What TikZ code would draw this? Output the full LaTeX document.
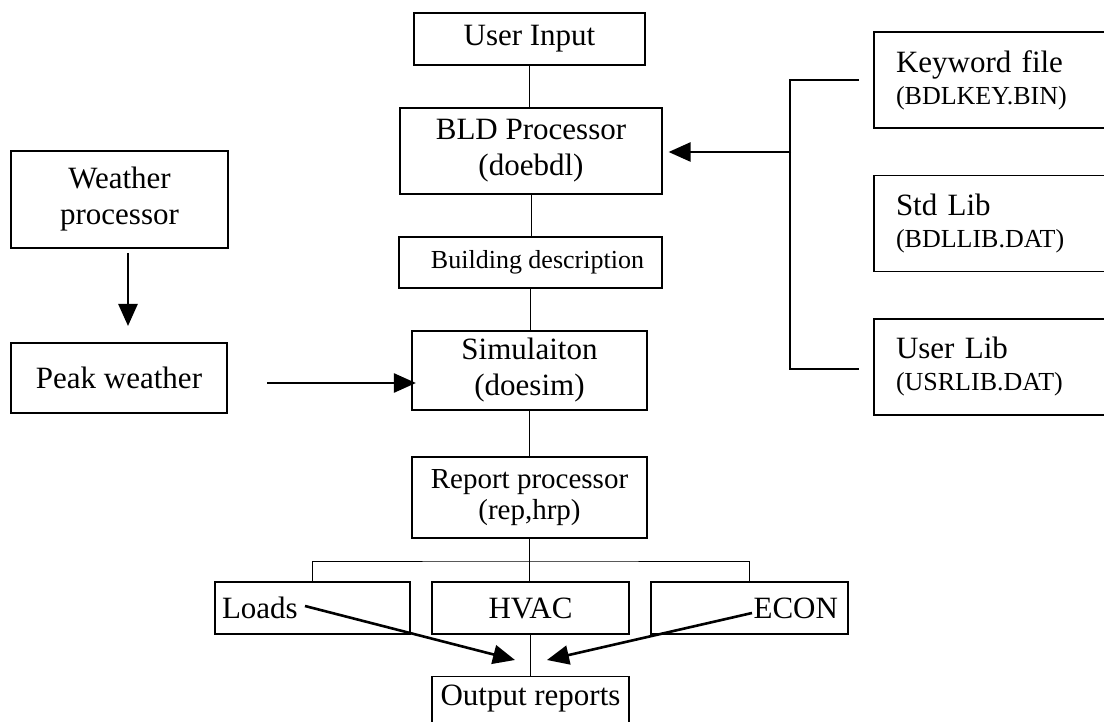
\documentclass[tikz,border=0pt]{standalone}
\usepackage{fontspec}
\setmainfont{Liberation Serif}
\usetikzlibrary{arrows.meta,calc}
\newcommand\fbig{\fontsize{31}{36}\selectfont}
\newcommand\fmid{\fontsize{29}{31}\selectfont}
\newcommand\fsmall{\fontsize{26}{31}\selectfont}
\newcommand\flib{\fontsize{31}{32}\selectfont}
\tikzset{
  box/.style={draw, rectangle, inner sep=0pt, line width=1.2pt, align=center, font=\fbig},
  heavy/.style={line width=2.2pt},
  medium/.style={line width=1.7pt},
  link/.style={line width=1pt},
  arr/.style={line width=2.6pt, -{Triangle[length=22pt,width=19pt]}},
  brk/.style={line width=2.2pt},
  lib/.style={box, line width=1.8pt, font=\flib, text width=206pt, align=left, inner xsep=22pt, minimum height=96pt},
}
\begin{document}
\begin{tikzpicture}[x=1pt,y=-1pt]
\useasboundingbox (0,0) rectangle (1104,722);
\fill[white] (0,0) rectangle (1104,722);

% central column
\node[box, heavy, minimum width=231pt, minimum height=52pt] (ui) at (529.5,39) {User Input};
\node[box, minimum width=262pt, minimum height=86pt] (bld) at (531,151) {BLD Processor\\(doebdl)};
\node[box, heavy, minimum width=263pt, minimum height=51pt, font=\fsmall] (bd) at (530.5,262.5) {\hspace*{14pt}Building description};
\node[box, heavy, minimum width=235pt, minimum height=79pt] (sim) at (529.5,370.5) {Simulaiton\\(doesim)};
\node[box, heavy, minimum width=235pt, minimum height=81pt, font=\fmid] (rep) at (529.5,497.5) {Report processor\\(rep,hrp)};

% outputs
\node[box, text width=181pt, inner xsep=7pt, align=left, minimum height=52pt] (loads) at (312.5,608) {Loads};
\node[box, minimum width=197pt, minimum height=52pt] (hvac) at (530.5,608) {HVAC};
\node[box, text width=177pt, inner xsep=10pt, align=right, minimum height=52pt] (econ) at (749.5,608) {ECON};
\node[box, minimum width=197pt, anchor=north, text height=29pt, text depth=31pt] (out) at (530.5,676) {Output reports};

% weather
\node[box, medium, minimum width=217pt, minimum height=97pt] (wp) at (119.5,199.5) {Weather\\processor};
\node[box, medium, minimum width=216pt, minimum height=70pt] (pk) at (119,378) {Peak weather};

% libraries
\node[lib] (kw) at (999,80) {Keyword file\\{\fsmall (BDLKEY.BIN)}};
\node[lib] (std) at (999,223.5) {Std Lib\\{\fsmall (BDLLIB.DAT)}};
\node[lib] (ul) at (999,367) {User Lib\\{\fsmall (USRLIB.DAT)}};

% thin central links
\draw[link] (ui.south) -- (ui.south |- bld.north);
\draw[link] (bld.south) -- (bld.south |- bd.north);
\draw[link] (bd.south) -- (bd.south |- sim.north);
\draw[link] (sim.south) -- (sim.south |- rep.north);
\coordinate (bus) at (530,561);
\draw[link] (rep.south) -- (rep.south |- hvac.north);
\draw[link] (loads.north) |- (bus) -| (econ.north);
\draw[link] (hvac.south) -- (out.north);

% library bracket
\coordinate (kwL) at ($(kw.west)+(-14,0)$);
\coordinate (ulL) at ($(ul.west)+(-14,2)$);
\coordinate (bm) at (791,152);
\coordinate (bldtip) at ($(bld.east)+(6,1)$);
\draw[brk] (kwL) -- ++(-69,0) |- (ulL);
\draw[arr] (bm) -- (bldtip);

% weather arrows
\coordinate (w1) at (128,253);
\coordinate (w2) at (128,326);
\draw[arr] (w1) -- (w2);
\coordinate (p1) at (267,383);
\coordinate (p2) at ($(sim.west |- p1)+(5,0)$);
\draw[arr] (p1) -- (p2);

% report arrows
\coordinate (lst) at (305,606);
\coordinate (ltip) at (515,660);
\coordinate (est) at (752,613);
\coordinate (etip) at (547,660);
\draw[arr] (lst) -- (ltip);
\draw[arr] (est) -- (etip);
\end{tikzpicture}
\end{document}
